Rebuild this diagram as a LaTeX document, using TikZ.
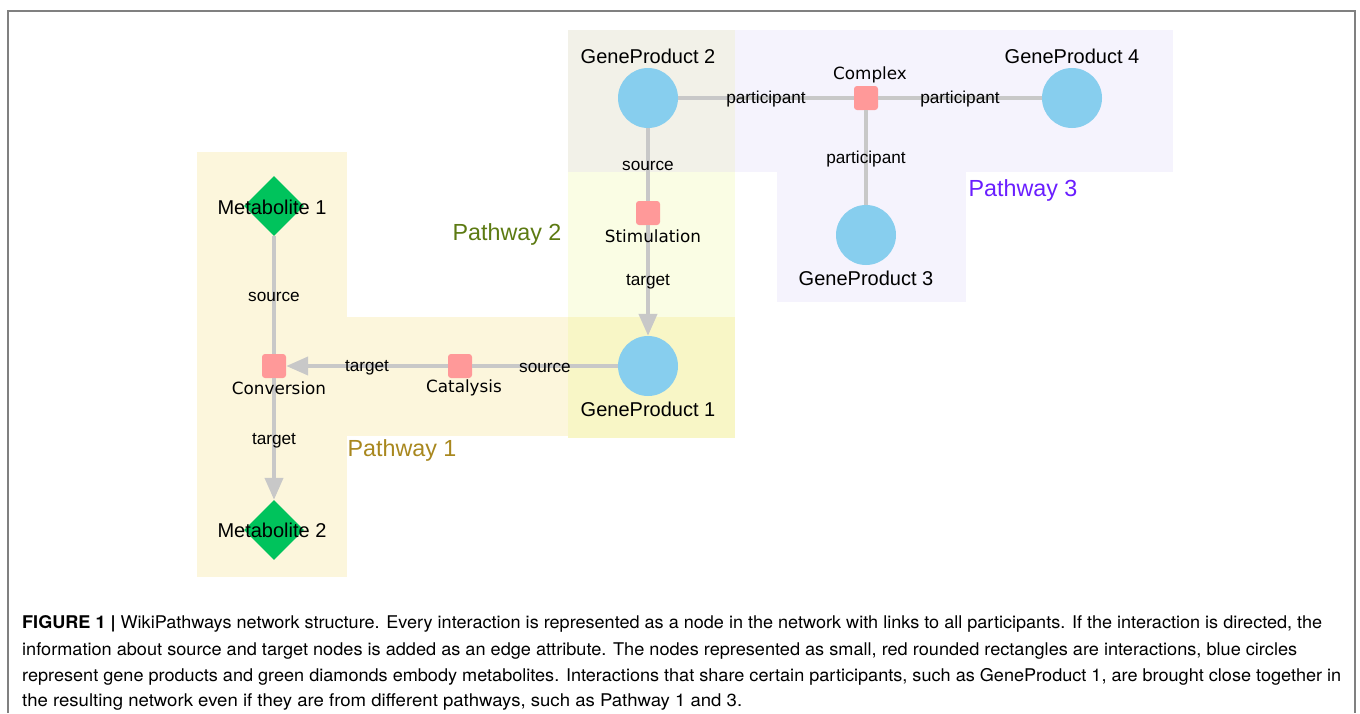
\documentclass[tikz,border=0pt]{standalone}
\usepackage{fontspec}
\setmainfont{Liberation Sans}
\newfontfamily\dejavu{DejaVu Sans}
\newfontfamily\heros{TeX Gyre Heros}
\usetikzlibrary{shapes.geometric,arrows.meta}
\definecolor{pwone}{HTML}{FCF6DC}
\definecolor{pwonetwo}{HTML}{F8F6C6}
\definecolor{pwtwo}{HTML}{FAFDE4}
\definecolor{pwtwothree}{HTML}{F2F1E8}
\definecolor{pwthree}{HTML}{F5F3FD}
\definecolor{gpblue}{HTML}{87CEEE}
\definecolor{intred}{HTML}{FF9999}
\definecolor{metgreen}{HTML}{00C35C}
\definecolor{edgegray}{HTML}{C8C8C8}
\definecolor{frame}{HTML}{808080}
\definecolor{pwonetext}{HTML}{A8871E}
\definecolor{pwtwotext}{HTML}{5C7A12}
\definecolor{pwthreetext}{HTML}{6A1EFF}
\tikzset{
  gene/.style={circle,fill=gpblue,draw=none,minimum size=60pt,inner sep=0pt},
  inter/.style={rectangle,rounded corners=3pt,fill=intred,draw=none,minimum size=24pt,inner sep=0pt},
  metab/.style={diamond,fill=metgreen,draw=none,minimum width=60pt,minimum height=60pt,inner sep=0pt},
  link/.style={draw=edgegray,line width=4pt},
  dlink/.style={link,-{Triangle[length=22pt,width=18pt]}},
  elabel/.style={font=\fontsize{17.2}{19}\selectfont,inner sep=0pt,text=black,yshift=-1.5pt},
  glabel/.style={font=\fontsize{20}{23}\selectfont,inner sep=0pt,text=black},
  ilabel/.style={font=\dejavu\fontsize{16.8}{19}\selectfont,inner sep=0pt,text=black},
  plabel/.style={font=\fontsize{23.3}{27}\selectfont,inner sep=0pt},
  capline/.style={anchor=base west,inner sep=0pt,font=\heros\fontsize{17.5}{20}\selectfont}
}
\begin{document}
\begin{tikzpicture}[x=1pt,y=-1pt]
\useasboundingbox (0,0) rectangle (1360,713);
% frame
\draw[frame,line width=2pt] (8,713) -- (8,11) -- (1355,11) -- (1355,713);
% pathway backgrounds
\fill[pwone] (197,152) rectangle (347,577);
\fill[pwone] (347,317) rectangle (568,436);
\fill[pwtwo] (568,172) rectangle (735,317);
\fill[pwonetwo] (568,317) rectangle (735,438);
\fill[pwtwothree] (568,30) rectangle (735,172);
\fill[pwthree] (735,30) rectangle (1173,172);
\fill[pwthree] (777,172) rectangle (966,302);
% nodes
\node[gene] (gp2) at (648,98) {};
\node[gene] (gp4) at (1072,98) {};
\node[gene] (gp3) at (866,235) {};
\node[gene] (gp1) at (648,366) {};
\node[inter] (cpx) at (866,98) {};
\node[inter] (stim) at (648,213) {};
\node[inter] (cat) at (460,366) {};
\node[inter] (conv) at (274,366) {};
\node[metab] (met1) at (274,206) {};
\node[metab] (met2) at (274,530) {};
% edges
\draw[link] (gp2) -- node[elabel]{participant} (cpx);
\draw[link] (cpx) -- node[elabel]{participant} (gp4);
\draw[link] (cpx) -- node[elabel]{participant} (gp3);
\draw[link] (gp2) -- node[elabel]{source} (stim);
\draw[dlink] (stim) -- node[elabel]{target} (gp1);
\draw[link] (gp1) -- node[elabel]{source} (cat);
\draw[dlink] (cat) -- node[elabel]{target} (conv);
\draw[link] (met1) -- node[elabel]{source} (conv);
\draw[dlink] (conv) -- node[elabel]{target} (met2);
% node labels
\node[glabel] (lgp2) at (648,56) {GeneProduct 2};
\node[glabel] (lgp4) at (1072,56) {GeneProduct 4};
\node[glabel] (lgp3) at (866,278) {GeneProduct 3};
\node[glabel] (lgp1) at (648,409) {GeneProduct 1};
\node[glabel] (lmet1) at (272,207) {Metabolite 1};
\node[glabel] (lmet2) at (272,530) {Metabolite 2};
\node[ilabel] (lcpx) at (870,75) {Complex};
\node[ilabel] (lstim) at (653,236) {Stimulation};
\node[ilabel] (lcat) at (464,388) {Catalysis};
\node[ilabel] (lconv) at (279,388) {Conversion};
% pathway labels
\node[plabel,text=pwonetext] (p1) at (402,450) {Pathway 1};
\node[plabel,text=pwtwotext] (p2) at (507,234) {Pathway 2};
\node[plabel,text=pwthreetext] (p3) at (1023,190) {Pathway 3};
% caption
\node[capline] (c1) at (22,628) {\resizebox{1300pt}{\height}{\textbf{FIGURE 1 |} WikiPathways network structure. Every interaction is represented as a node in the network with links to all participants. If the interaction is directed, the}};
\node[capline] (c2) at (22,655) {\resizebox{1275pt}{\height}{information about source and target nodes is added as an edge attribute. The nodes represented as small, red rounded rectangles are interactions, blue circles}};
\node[capline] (c3) at (22,681) {\resizebox{1319pt}{\height}{represent gene products and green diamonds embody metabolites. Interactions that share certain participants, such as GeneProduct 1, are brought close together in}};
\node[capline] (c4) at (22,706) {\resizebox{720pt}{\height}{the resulting network even if they are from different pathways, such as Pathway 1 and 3.}};
\end{tikzpicture}
\end{document}
